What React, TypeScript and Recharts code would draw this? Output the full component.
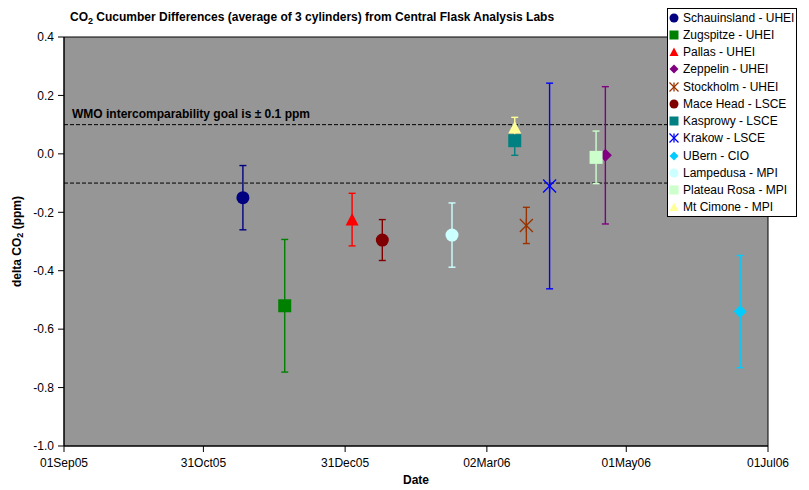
import React from 'react';
import {
  ScatterChart, Scatter, XAxis, YAxis, ErrorBar,
  ReferenceLine, ReferenceArea, Legend, Label
} from 'recharts';

const FONT = '"Liberation Sans", Arial, sans-serif';

// station / lab for each series (legend order)
const stations = [
  'Schauinsland - UHEI', 'Zugspitze - UHEI', 'Pallas - UHEI', 'Zeppelin - UHEI',
  'Stockholm - UHEI', 'Mace Head - LSCE', 'Kasprowy - LSCE', 'Krakow - LSCE',
  'UBern - CIO', 'Lampedusa - MPI', 'Plateau Rosa - MPI', 'Mt Cimone - MPI',
];
const dates = [
  '2005-11-17', '2005-12-05', '2006-01-03', '2006-04-22',
  '2006-03-19', '2006-01-16', '2006-03-14', '2006-03-29',
  '2006-06-19', '2006-02-15', '2006-04-18', '2006-03-14',
];
const deltas = [-0.15, -0.52, -0.225, -0.005, -0.245, -0.295, 0.045, -0.11, -0.54, -0.278, -0.012, 0.09];
const errors = [0.11, 0.227, 0.09, 0.235, 0.062, 0.07, 0.05, 0.352, 0.192, 0.11, 0.09, 0.035];

const tickDates = ['2005-09-01', '2005-10-31', '2005-12-31', '2006-03-02', '2006-05-01', '2006-07-01'];
const tickLabels = ['01Sep05', '31Oct05', '31Dec05', '02Mar06', '01May06', '01Jul06'];
const yTicks = [-1.0, -0.8, -0.6, -0.4, -0.2, 0, 0.2, 0.4];
const goal = 0.1;

const colors = [
  '#000080', '#008000', '#FF0000', '#800080', '#993300', '#800000',
  '#008080', '#0000FF', '#00CCFF', '#CCFFFF', '#CCFFCC', '#FFFF99',
];
const shapes = [
  'circle', 'square', 'triangle', 'diamond', 'star', 'circle',
  'square', 'star', 'diamond', 'circle', 'square', 'triangle',
];

const day0 = Date.UTC(2005, 8, 1);
const toDay = (d: string) => Math.round((Date.parse(d + 'T00:00:00Z') - day0) / 86400000);
const tickDays = tickDates.map(toDay);

const marker = (kind: string, cx: number, cy: number, s: number, color: string) => {
  switch (kind) {
    case 'circle':
      return <circle cx={cx} cy={cy} r={s} fill={color} />;
    case 'square':
      return <rect x={cx - s} y={cy - s} width={s * 2} height={s * 2} fill={color} />;
    case 'triangle':
      return <polygon points={`${cx},${cy - s} ${cx + s},${cy + s * 0.9} ${cx - s},${cy + s * 0.9}`} fill={color} />;
    case 'diamond':
      return <polygon points={`${cx},${cy - s} ${cx + s},${cy} ${cx},${cy + s} ${cx - s},${cy}`} fill={color} />;
    case 'star':
      return (
        <g stroke={color} strokeWidth={1.3}>
          <line x1={cx - s} y1={cy - s} x2={cx + s} y2={cy + s} />
          <line x1={cx - s} y1={cy + s} x2={cx + s} y2={cy - s} />
          <line x1={cx} y1={cy - s} x2={cx} y2={cy + s} />
        </g>
      );
    default:
      return null;
  }
};

const renderLegend = () => (
  <div style={{
    border: '1px solid #000', background: '#fff', width: 130, boxSizing: 'border-box',
    fontFamily: FONT, fontSize: 12, color: '#000',
  }}>
    {stations.map((name, i) => (
      <div key={name} style={{ display: 'flex', alignItems: 'center', height: 17.25, whiteSpace: 'nowrap' }}>
        <svg width={12} height={12}>
          {marker(shapes[i], 6, 6, 4.5, colors[i])}
        </svg>
        <span style={{ marginLeft: 3 }}>{name}</span>
      </div>
    ))}
  </div>
);

const YTitle = (props: any) => {
  const { viewBox } = props;
  const x = 18;
  const y = viewBox.y + viewBox.height / 2;
  return (
    <text x={x} y={y} transform={`rotate(-90 ${x} ${y})`} textAnchor="middle" dominantBaseline="middle"
      fontFamily={FONT} fontSize={12} fontWeight="bold" fill="#000">
      delta CO<tspan fontSize={9} dy={3}>2</tspan><tspan dy={-3}> (ppm)</tspan>
    </text>
  );
};

const XTitle = (props: any) => {
  const { viewBox } = props;
  return (
    <text x={viewBox.x + viewBox.width / 2} y={484} textAnchor="middle"
      fontFamily={FONT} fontSize={12} fontWeight="bold" fill="#000">Date</text>
  );
};

const GoalLabel = (props: any) => {
  const { viewBox } = props;
  return (
    <text x={viewBox.x + 8} y={viewBox.y - 6.5} fontFamily={FONT} fontSize={12} fontWeight="bold" fill="#000">
      WMO intercomparability goal is ± 0.1 ppm
    </text>
  );
};

export default function App() {
  return (
    <div style={{ position: 'absolute', left: 0, top: 0, width: 809, height: 490, background: '#fff', fontFamily: FONT }}>
      <div style={{ position: 'absolute', left: 70, top: 9, fontSize: 12, fontWeight: 'bold', lineHeight: '16px', whiteSpace: 'nowrap', zIndex: 2 }}>
        CO<sub style={{ fontSize: 9, verticalAlign: 'sub', lineHeight: 0 }}>2</sub> Cucumber Differences (average of 3 cylinders) from Central Flask Analysis Labs
      </div>
      <ScatterChart width={809} height={490} margin={{ top: 37, right: 41, left: 24, bottom: 14 }}>
        <ReferenceArea x1={0} x2={tickDays[tickDays.length - 1]} y1={-1} y2={0.4}
          fill="#969696" fillOpacity={1} stroke="#000" strokeWidth={1} />
        <XAxis type="number" dataKey="x" domain={[0, tickDays[tickDays.length - 1]]} ticks={tickDays}
          tickFormatter={(v: number) => tickLabels[tickDays.indexOf(v)]}
          height={30} tickSize={6} tickMargin={6} stroke="#000"
          tick={{ fill: '#000', fontSize: 12, fontFamily: FONT }} interval={0}>
          <Label content={<XTitle />} />
        </XAxis>
        <YAxis type="number" dataKey="y" domain={[-1, 0.4]} ticks={yTicks}
          tickFormatter={(v: number) => v.toFixed(1)} width={40} tickSize={6} tickMargin={4}
          stroke="#000" tick={{ fill: '#000', fontSize: 12, fontFamily: FONT }} interval={0}>
          <Label content={<YTitle />} />
        </YAxis>
        <ReferenceLine y={goal} stroke="#000" strokeDasharray="4 2" label={<GoalLabel />} />
        <ReferenceLine y={-goal} stroke="#000" strokeDasharray="4 2" />
        {stations.map((name, i) => (
          <Scatter key={name} name={name}
            data={[{ x: toDay(dates[i]), y: deltas[i], err: errors[i] }]}
            fill={colors[i]} isAnimationActive={false}
            shape={(p: any) => marker(shapes[i], p.cx, p.cy, 6.5, colors[i])}>
            <ErrorBar dataKey="err" direction="y" width={3.5} stroke={colors[i]} strokeWidth={1.4}
              strokeOpacity={1} />
          </Scatter>
        ))}
        <Legend layout="vertical" align="center" verticalAlign="middle" content={renderLegend}
          wrapperStyle={{ position: 'absolute', left: 667, top: 8, width: 130, height: 207 }} />
      </ScatterChart>
    </div>
  );
}
